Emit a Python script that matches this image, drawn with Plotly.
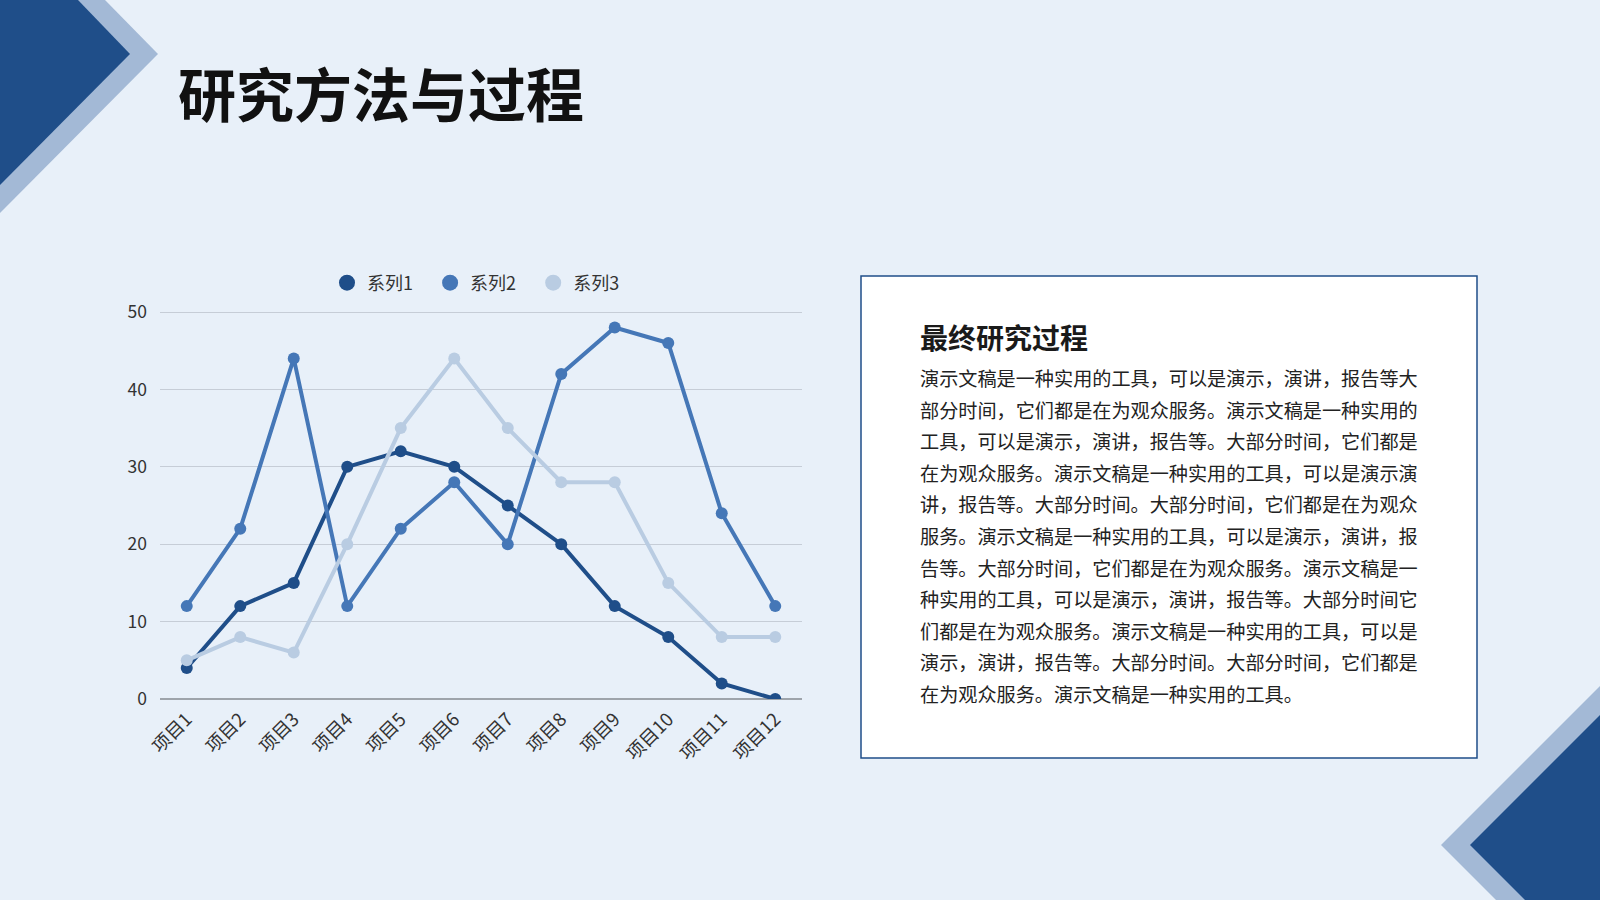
import plotly.graph_objects as go

# --- data ---
categories = ["项目1", "项目2", "项目3", "项目4", "项目5", "项目6",
              "项目7", "项目8", "项目9", "项目10", "项目11", "项目12"]
series1 = [4, 12, 15, 30, 32, 30, 25, 20, 12, 8, 2, 0]
series2 = [12, 22, 44, 12, 22, 28, 20, 42, 48, 46, 24, 12]
series3 = [5, 8, 6, 20, 35, 44, 35, 28, 28, 15, 8, 8]
series_names = ["系列1", "系列2", "系列3"]

title_text = "研究方法与过程"
box_title = "最终研究过程"
box_lines = [
    "演示文稿是一种实用的工具，可以是演示，演讲，报告等大",
    "部分时间，它们都是在为观众服务。演示文稿是一种实用的",
    "工具，可以是演示，演讲，报告等。大部分时间，它们都是",
    "在为观众服务。演示文稿是一种实用的工具，可以是演示演",
    "讲，报告等。大部分时间。大部分时间，它们都是在为观众",
    "服务。演示文稿是一种实用的工具，可以是演示，演讲，报",
    "告等。大部分时间，它们都是在为观众服务。演示文稿是一",
    "种实用的工具，可以是演示，演讲，报告等。大部分时间它",
    "们都是在为观众服务。演示文稿是一种实用的工具，可以是",
    "演示，演讲，报告等。大部分时间。大部分时间，它们都是",
    "在为观众服务。演示文稿是一种实用的工具。",
]

# --- style ---
W, H = 1600, 900
BG = "#e8f0f9"
DARK = "#1f4e89"
LIGHT = "#a3b9d6"
colors = ["#1f4e89", "#4577b7", "#b9cce2"]
FONT = "Noto Sans CJK SC"


def px(x, y):
    # pixel coords -> paper coords
    return x / W, 1 - y / H


def path(points):
    pts = [px(x, y) for x, y in points]
    return "M " + " L ".join(f"{a:.5f},{b:.5f}" for a, b in pts) + " Z"


fig = go.Figure()

for name, vals, col in zip(series_names, [series1, series2, series3], colors):
    fig.add_trace(go.Scatter(
        x=categories, y=vals, mode="lines+markers", name=name,
        line=dict(color=col, width=4),
        marker=dict(color=col, size=12),
        showlegend=False,
    ))
# legend entries as plain circles
for name, col in zip(series_names, colors):
    fig.add_trace(go.Scatter(
        x=[None], y=[None], mode="markers", name=name + "   ",
        marker=dict(color=col, size=18),
    ))

shapes = [
    # top-left corner decoration
    dict(type="path", path=path([(0, 0), (105, 0), (158, 54), (0, 213)]),
         xref="paper", yref="paper", fillcolor=LIGHT, line_width=0, layer="below"),
    dict(type="path", path=path([(0, 0), (78, 0), (130, 54), (0, 185)]),
         xref="paper", yref="paper", fillcolor=DARK, line_width=0, layer="below"),
    # bottom-right corner decoration
    dict(type="path", path=path([(1441, 845), (1600, 686), (1600, 900), (1496, 900)]),
         xref="paper", yref="paper", fillcolor=LIGHT, line_width=0, layer="below"),
    dict(type="path", path=path([(1470, 845), (1600, 715), (1600, 900), (1525, 900)]),
         xref="paper", yref="paper", fillcolor=DARK, line_width=0, layer="below"),
]
bx0, by0 = px(861, 276)
bx1, by1 = px(1477, 758)
shapes.append(dict(type="rect", xref="paper", yref="paper",
                   x0=bx0, y0=by1, x1=bx1, y1=by0,
                   fillcolor="white", line=dict(color=DARK, width=1.5), layer="below"))

annotations = []
tx, ty = px(176, 92)
annotations.append(dict(text=f"<b>{title_text}</b>", x=tx, y=ty, xref="paper", yref="paper",
                        xanchor="left", yanchor="middle", showarrow=False,
                        font=dict(family=FONT, size=58, color="#111111")))
hx, hy = px(918, 337)
annotations.append(dict(text=f"<b>{box_title}</b>", x=hx, y=hy, xref="paper", yref="paper",
                        xanchor="left", yanchor="middle", showarrow=False,
                        font=dict(family=FONT, size=28, color="#1a1a1a")))
for i, line in enumerate(box_lines):
    lx, ly = px(918, 378 + i * 31.6)
    annotations.append(dict(text=line, x=lx, y=ly, xref="paper", yref="paper",
                            xanchor="left", yanchor="middle", showarrow=False,
                            font=dict(family=FONT, size=19.15, color="#222222")))

# y axis: 0 at 699px, 50 at 312px; range padded a little so the 50 gridline is drawn
y_top = 51
unit = (699 - 312) / 50
fig.update_layout(
    width=W, height=H,
    margin=dict(l=0, r=0, t=0, b=0, autoexpand=False),
    paper_bgcolor=BG, plot_bgcolor=BG,
    font=dict(family=FONT, size=18, color="#333333"),
    shapes=shapes,
    annotations=annotations,
    legend=dict(orientation="h", x=482 / W, y=1 - 283 / H,
                xanchor="center", yanchor="middle",
                bgcolor="rgba(0,0,0,0)", font=dict(size=18, color="#333333"),
                itemwidth=30),
    xaxis=dict(domain=[160 / W, 802 / W], type="category", range=[-0.5, 11.5],
               tickangle=-45, showgrid=False, showline=False, zeroline=False,
               automargin=False, ticks="", ticklabelstandoff=5,
               tickfont=dict(size=18.4)),
    yaxis=dict(domain=[1 - 699 / H, 1 - (699 - y_top * unit) / H], range=[0, y_top],
               tick0=0, dtick=10,
               showgrid=True, gridcolor="#c6cdd7", gridwidth=1,
               zeroline=True, zerolinecolor="#9ea4ab", zerolinewidth=2,
               automargin=False, showline=False, ticks="", ticklabelstandoff=12,
               tickfont=dict(size=17.5)),
)

fig.write_html("out.html", config={"displayModeBar": False},
               post_script="document.body.style.margin='0';")
